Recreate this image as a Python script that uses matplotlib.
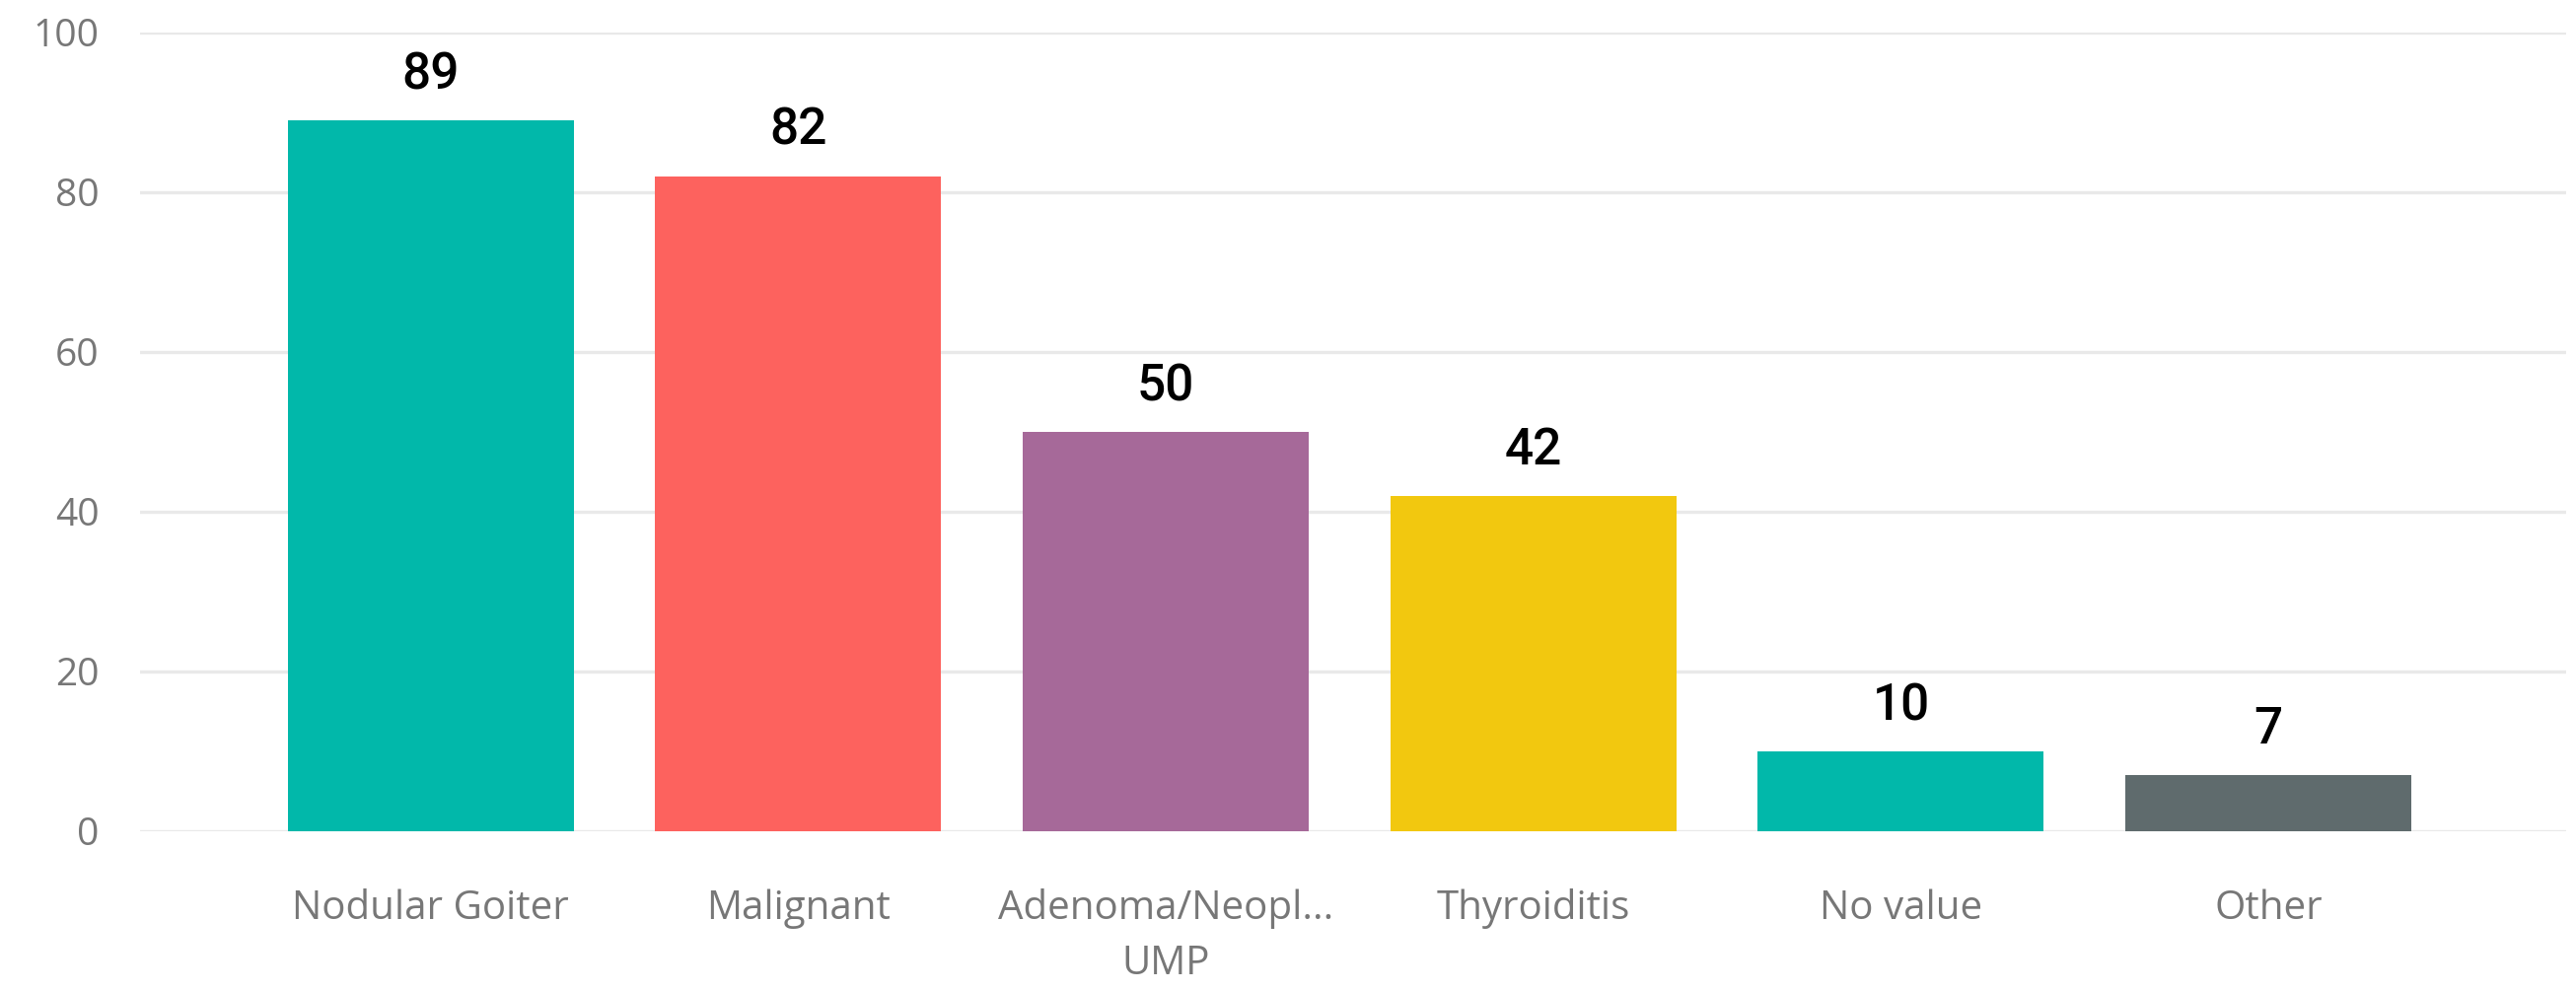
import matplotlib.pyplot as plt

categorias = ["Nodular Goiter", "Malignant", "Adenoma/Neopl...\nUMP", "Thyroiditis", "No value", "Other"]
valores = [89, 82, 50, 42, 10, 7]
cores = ["#01B8AA", "#FD625E", "#A66999", "#F2C80F", "#01B8AA", "#5F6B6D"]
yticks = [0, 20, 40, 60, 80, 100]

fig = plt.figure(figsize=(26.12, 10.05), dpi=100)
ax = fig.add_axes([0.0544, 0.1612, 0.9418, 0.806])

x = list(range(len(categorias)))
ax.bar(x, valores, width=0.778, color=cores, zorder=3)

for i, v in zip(x, valores):
    ax.annotate(str(v), (i, v), xytext=(0, 15), textcoords="offset points",
                ha="center", va="bottom", fontsize=37, color="black",
                family="Roboto", fontweight="medium", fontstretch="condensed")

ax.set_ylim(0, 100)
ax.set_xlim(-0.79, 5.81)
ax.set_yticks(yticks)
ax.set_xticks(x)
ax.set_xticklabels(categorias, fontsize=29, color="#777777", family="Open Sans",
                   linespacing=1.5)
ax.tick_params(axis="x", length=0, pad=42)
ax.tick_params(axis="y", length=0, pad=30, labelsize=28, labelcolor="#777777")
for lab in ax.get_yticklabels():
    lab.set_family("Open Sans")

ax.grid(axis="y", color="#E9E9E9", linewidth=2.4, zorder=0)
for s in ax.spines.values():
    s.set_visible(False)

plt.savefig("out.png", dpi=100)
